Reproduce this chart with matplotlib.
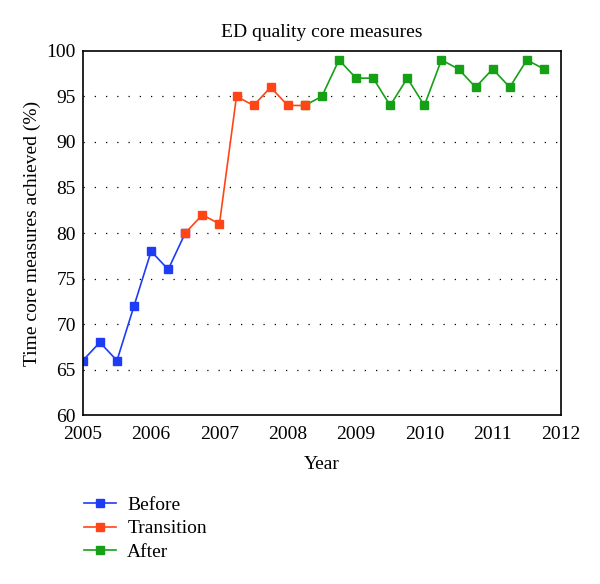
import matplotlib
matplotlib.use("Agg")
import matplotlib.pyplot as plt

plt.rcParams['font.family'] = ['Liberation Serif', 'DejaVu Serif']

# quarterly readings, % of time core measures achieved
before_x = [2005.0, 2005.25, 2005.5, 2005.75, 2006.0, 2006.25, 2006.5]
before_y = [66, 68, 66, 72, 78, 76, 80]

trans_x = [2006.5, 2006.75, 2007.0, 2007.25, 2007.5, 2007.75, 2008.0, 2008.25]
trans_y = [80, 82, 81, 95, 94, 96, 94, 94]

after_x = [2008.25, 2008.5, 2008.75, 2009.0, 2009.25, 2009.5, 2009.75, 2010.0,
           2010.25, 2010.5, 2010.75, 2011.0, 2011.25, 2011.5, 2011.75]
after_y = [94, 95, 99, 97, 97, 94, 97, 94, 99, 98, 96, 98, 96, 99, 98]

x_ticks = [2005, 2006, 2007, 2008, 2009, 2010, 2011, 2012]
y_ticks = [60, 65, 70, 75, 80, 85, 90, 95, 100]

fig = plt.figure(figsize=(6, 5.84), dpi=100)
ax = fig.add_axes([0.138, 0.289, 0.797, 0.624])

for yv in y_ticks[1:-1]:
    ax.axhline(yv, color='black', linestyle=(0, (1, 8)), linewidth=0.9, zorder=0)

l1, = ax.plot(before_x, before_y, color='#1f3cf5', marker='s', markersize=5.5, linewidth=1.2, label='Before')
l3, = ax.plot(after_x, after_y, color='#16a016', marker='s', markersize=5.5, linewidth=1.2, label='After')
l2, = ax.plot(trans_x, trans_y, color='#ff4515', marker='s', markersize=5.5, linewidth=1.2, label='Transition')

ax.set_xlim(2005, 2012)
ax.set_ylim(60, 100)
ax.set_xticks(x_ticks)
ax.set_yticks(y_ticks)
ax.tick_params(length=0, labelsize=14)
ax.tick_params(axis='x', pad=8)
ax.tick_params(axis='y', pad=5)
for s in ax.spines.values():
    s.set_linewidth(1.2)

ax.set_title('ED quality core measures', fontsize=14, pad=10)
ax.set_xlabel('Year', fontsize=14, labelpad=9)
ax.set_ylabel('Time core measures achieved (%)', fontsize=14, labelpad=4)

fig.legend([l1, l2, l3], ['Before', 'Transition', 'After'], loc='upper left',
           bbox_to_anchor=(0.11, 0.18), frameon=False, fontsize=14,
           handlelength=1.65, labelspacing=0.3, handletextpad=0.6)

fig.savefig('out.png', dpi=100)
